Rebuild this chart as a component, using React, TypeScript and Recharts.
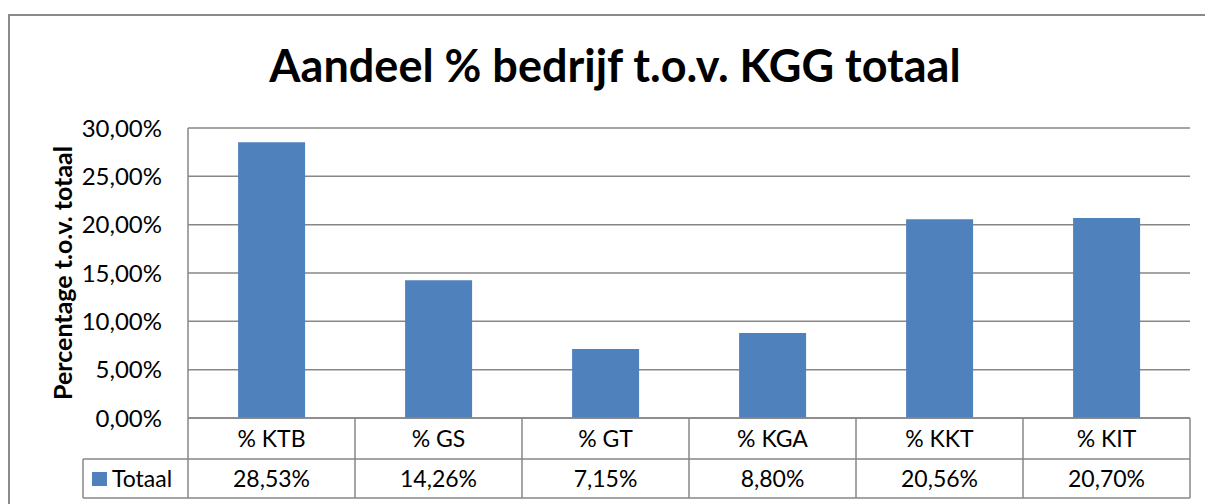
import { Bar, BarChart, CartesianGrid, XAxis, YAxis } from "recharts";

const categories = ["% KTB", "% GS", "% GT", "% KGA", "% KKT", "% KIT"];
const totaal = [28.53, 14.26, 7.15, 8.8, 20.56, 20.7];
const yTicks = [0, 5, 10, 15, 20, 25, 30];

const data = categories.map((name, i) => ({ name, totaal: totaal[i] }));

const FONT = "Lato, 'Open Sans', sans-serif";
const BLUE = "#4F81BD";
const GRID = "#878787";

const pct = (v: number) => v.toFixed(2).replace(".", ",") + "%";

// row heights of the data table under the plot
const ROW1 = 41;
const ROW2 = 39;

const TableTick = (props: any) => {
  const { x, y, payload, index, width } = props;
  const w = typeof width === "number" ? width / categories.length : 167;
  const left = x - w / 2;
  const right = x + w / 2;
  return (
    <g>
      {index === 0 && (
        <g>
          <line x1={left} y1={y} x2={left} y2={y + ROW1 + ROW2} stroke={GRID} strokeWidth={1.5} />
          <line x1={left - 105} y1={y + ROW1} x2={left} y2={y + ROW1} stroke={GRID} strokeWidth={1.5} />
          <line x1={left - 105} y1={y + ROW1 + ROW2} x2={left} y2={y + ROW1 + ROW2} stroke={GRID} strokeWidth={1.5} />
          <line x1={left - 105} y1={y + ROW1} x2={left - 105} y2={y + ROW1 + ROW2} stroke={GRID} strokeWidth={1.5} />
          <rect x={left - 96} y={y + ROW1 + 13} width={15} height={14} fill={BLUE} />
          <text x={left - 76} y={y + ROW1 + 28} fontSize={23} fontFamily={FONT} fill="#000">
            Totaal
          </text>
        </g>
      )}
      <line x1={right} y1={y} x2={right} y2={y + ROW1 + ROW2} stroke={GRID} strokeWidth={1.5} />
      <line x1={left} y1={y + ROW1} x2={right} y2={y + ROW1} stroke={GRID} strokeWidth={1.5} />
      <line x1={left} y1={y + ROW1 + ROW2} x2={right} y2={y + ROW1 + ROW2} stroke={GRID} strokeWidth={1.5} />
      <text x={x} y={y + 29} textAnchor="middle" fontSize={23} fontFamily={FONT} fill="#000">
        {payload.value}
      </text>
      <text x={x} y={y + ROW1 + 28} textAnchor="middle" fontSize={23} fontFamily={FONT} fill="#000">
        {pct(totaal[index])}
      </text>
    </g>
  );
};

const AxisTitle = (props: any) => {
  const { viewBox } = props;
  const cy = viewBox ? viewBox.y + viewBox.height / 2 : 273;
  return (
    <text
      x={62}
      y={cy}
      transform={`rotate(-90, 62, ${cy})`}
      textAnchor="middle"
      dominantBaseline="central"
      fontSize={25}
      fontWeight="bold"
      fontFamily={FONT}
      fill="#000"
    >
      Percentage t.o.v. totaal
    </text>
  );
};

export default function App() {
  return (
    <div
      style={{
        position: "absolute",
        left: 0,
        top: 0,
        width: 1205,
        height: 504,
        background: "#fff",
        overflow: "hidden",
      }}
    >
      {/* chart border, runs off the right and bottom edge */}
      <div
        style={{
          position: "absolute",
          left: 8,
          top: 14,
          width: 1220,
          height: 520,
          border: "2px solid #8a8a8a",
        }}
      />
      <div
        style={{
          position: "absolute",
          left: 0,
          top: 38,
          width: 1230,
          textAlign: "center",
          fontFamily: FONT,
          fontWeight: "bold",
          fontSize: 45,
          color: "#000",
        }}
      >
        Aandeel % bedrijf t.o.v. KGG totaal
      </div>
      <div style={{ position: "absolute", left: 0, top: 0 }}>
        <BarChart
          width={1205}
          height={504}
          data={data}
          margin={{ top: 128, right: 15, bottom: 0, left: 0 }}
          barCategoryGap="30%"
        >
          <CartesianGrid vertical={false} stroke={GRID} strokeWidth={1.5} />
          <XAxis
            dataKey="name"
            height={86}
            tickLine={false}
            tickSize={0}
            tickMargin={0}
            axisLine={{ stroke: GRID, strokeWidth: 1.5 }}
            tick={<TableTick />}
            interval={0}
          />
          <YAxis
            width={188}
            domain={[0, 30]}
            ticks={yTicks}
            tickFormatter={pct}
            tickLine={false}
            tickMargin={20}
            axisLine={{ stroke: GRID, strokeWidth: 1.5 }}
            tick={{ fill: "#000", fontSize: 24, fontFamily: FONT }}
            label={<AxisTitle />}
          />
          <Bar dataKey="totaal" fill={BLUE} isAnimationActive={false} />
        </BarChart>
      </div>
    </div>
  );
}
